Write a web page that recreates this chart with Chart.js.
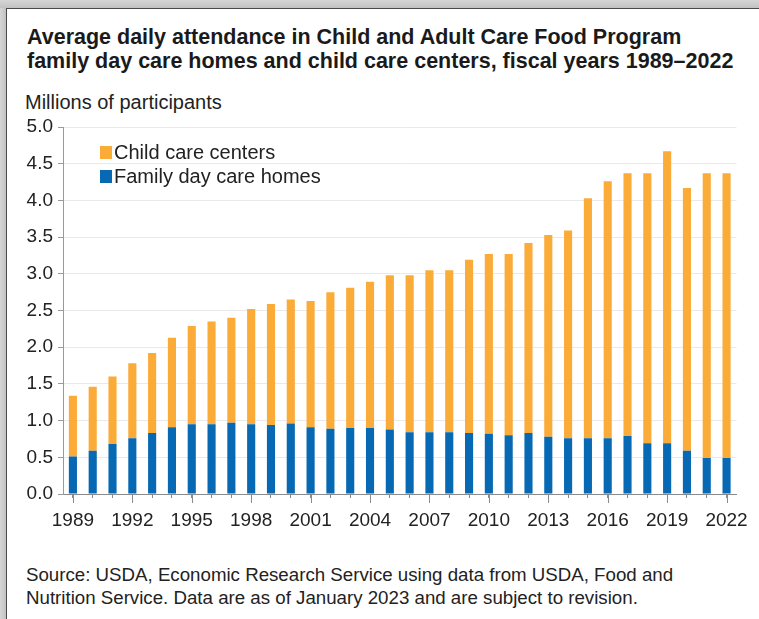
<!DOCTYPE html>
<html>
<head>
<meta charset="utf-8">
<script src="https://cdn.jsdelivr.net/npm/chart.js@4"></script>
<style>
  html, body { margin: 0; padding: 0; background: #fff; }
  body { width: 759px; height: 619px; position: relative; overflow: hidden; font-family: "Liberation Sans", Arial, sans-serif; color: #222; }
  .frameLeft { position: absolute; left: 0; top: 0; width: 6px; height: 619px; background: linear-gradient(to right, #d6d6d6, #c2c2c2); }
  .frameTop { position: absolute; left: 0; top: 0; width: 759px; height: 8px; background: linear-gradient(to bottom, #d6d6d6, #c2c2c2); }
  .frameLine { position: absolute; left: 6px; top: 8px; width: 753px; height: 611px; border-left: 1px solid #4a4a4a; border-top: 1px solid #4a4a4a; box-sizing: border-box; }
  #title { position: absolute; left: 27px; top: 25px; font-weight: bold; font-size: 21.5px; line-height: 24px; white-space: nowrap; color: #1a1a1a; }
  #yTitle { position: absolute; left: 25px; top: 92px; font-size: 20px; line-height: 20px; white-space: nowrap; }
  #legend { position: absolute; left: 100px; top: 140px; font-size: 20px; line-height: 24px; }
  #legend div { position: relative; padding-left: 14px; white-space: nowrap; }
  #legend span { position: absolute; left: 0; top: 6px; width: 12px; height: 13px; }
  #source { position: absolute; left: 26px; top: 563px; font-size: 18.7px; line-height: 23px; white-space: nowrap; }
  #wrap { position: absolute; left: 0; top: 110px; width: 759px; height: 440px; }
</style>
</head>
<body>
<div class="frameLeft"></div>
<div class="frameTop"></div>
<div class="frameLine"></div>
<div id="title">Average daily attendance in Child and Adult Care Food Program<br>family day care homes and child care centers, fiscal years 1989–2022</div>
<div id="yTitle">Millions of participants</div>
<div id="wrap"><canvas id="attendanceChart"></canvas></div>
<div id="legend">
  <div><span style="background:#FBAB38"></span>Child care centers</div>
  <div><span style="background:#0769B4"></span>Family day care homes</div>
</div>
<div id="source">Source: USDA, Economic Research Service using data from USDA, Food and<br>Nutrition Service. Data are as of January 2023 and are subject to revision.</div>

<script>
const years = ["1989", "1990", "1991", "1992", "1993", "1994", "1995", "1996", "1997", "1998", "1999",
    "2000", "2001", "2002", "2003", "2004", "2005", "2006", "2007", "2008", "2009", "2010", "2011",
    "2012", "2013", "2014", "2015", "2016", "2017", "2018", "2019", "2020", "2021", "2022"];

// millions of participants
const familyHomes = [0.51, 0.59, 0.68, 0.76, 0.83, 0.91, 0.95, 0.95, 0.97, 0.95, 0.94, 0.96, 0.91,
    0.89, 0.90, 0.90, 0.88, 0.84, 0.84, 0.84, 0.83, 0.82, 0.80, 0.83, 0.78, 0.76, 0.76, 0.76, 0.79,
    0.69, 0.69, 0.59, 0.49, 0.49];
const careCenters = [0.83, 0.87, 0.92, 1.02, 1.09, 1.22, 1.34, 1.40, 1.43, 1.57, 1.65, 1.69, 1.72,
    1.86, 1.91, 1.99, 2.10, 2.14, 2.21, 2.21, 2.36, 2.45, 2.47, 2.59, 2.75, 2.83, 3.27, 3.50, 3.58,
    3.68, 3.98, 3.58, 3.88, 3.88];

const yTicks = [0, 0.5, 1, 1.5, 2, 2.5, 3, 3.5, 4, 4.5, 5];

Chart.defaults.font.family = "'Liberation Sans', Arial, sans-serif";
Chart.defaults.color = "#222";

// longer tick marks under the labelled years
const longTicks = {
    id: "longTicks",
    afterDraw(chart) {
        const xs = chart.scales.x;
        const ctx = chart.ctx;
        ctx.save();
        ctx.strokeStyle = "#8a8a8a";
        ctx.lineWidth = 1;
        years.forEach((y, i) => {
            if (i % 3) return;
            const px = Math.round(xs.getPixelForTick(i)) + 0.5;
            ctx.beginPath();
            ctx.moveTo(px, xs.top);
            ctx.lineTo(px, xs.top + 9);
            ctx.stroke();
        });
        ctx.restore();
    },
};

const attendanceChart = new Chart(document.getElementById("attendanceChart"), {
    type: "bar",
    data: {
        labels: years,
        datasets: [
            {
                label: "Family day care homes",
                data: familyHomes,
                backgroundColor: "#0769B4",
                barPercentage: 0.41,
                categoryPercentage: 1,
            },
            {
                label: "Child care centers",
                data: careCenters,
                backgroundColor: "#FBAB38",
                barPercentage: 0.41,
                categoryPercentage: 1,
            },
        ],
    },
    options: {
        responsive: true,
        maintainAspectRatio: false,
        animation: false,
        layout: {
            padding: { top: 17, right: 21, left: 0, bottom: 0 },
        },
        scales: {
            x: {
                stacked: true,
                afterFit: (scale) => { scale.height = 56; },
                border: { color: "#8a8a8a" },
                grid: {
                    offset: false,
                    drawOnChartArea: false,
                    drawTicks: true,
                    tickLength: 4,
                    tickColor: "#8a8a8a",
                },
                ticks: {
                    autoSkip: false,
                    maxRotation: 0,
                    padding: 11,
                    font: { size: 19 },
                    color: "#222",
                    callback: function (value, index) {
                        return index % 3 === 0 ? years[index] : "";
                    },
                },
            },
            y: {
                stacked: true,
                min: 0,
                max: 5,
                afterFit: (scale) => { scale.width = 63; },
                afterBuildTicks: (scale) => { scale.ticks = yTicks.map((v) => ({ value: v })); },
                border: { color: "#9a9a9a" },
                grid: {
                    color: (c) => (c.tick && c.tick.value === 0 ? "rgba(0,0,0,0)" : "#e9e9e9"),
                    tickColor: "#9a9a9a",
                    tickLength: 5,
                },
                ticks: {
                    padding: 5,
                    font: { size: 19 },
                    color: "#222",
                    callback: (v) => Number(v).toFixed(1),
                },
            },
        },
        plugins: {
            legend: { display: false },
            tooltip: { enabled: false },
        },
    },
    plugins: [longTicks],
});
</script>
</body>
</html>
